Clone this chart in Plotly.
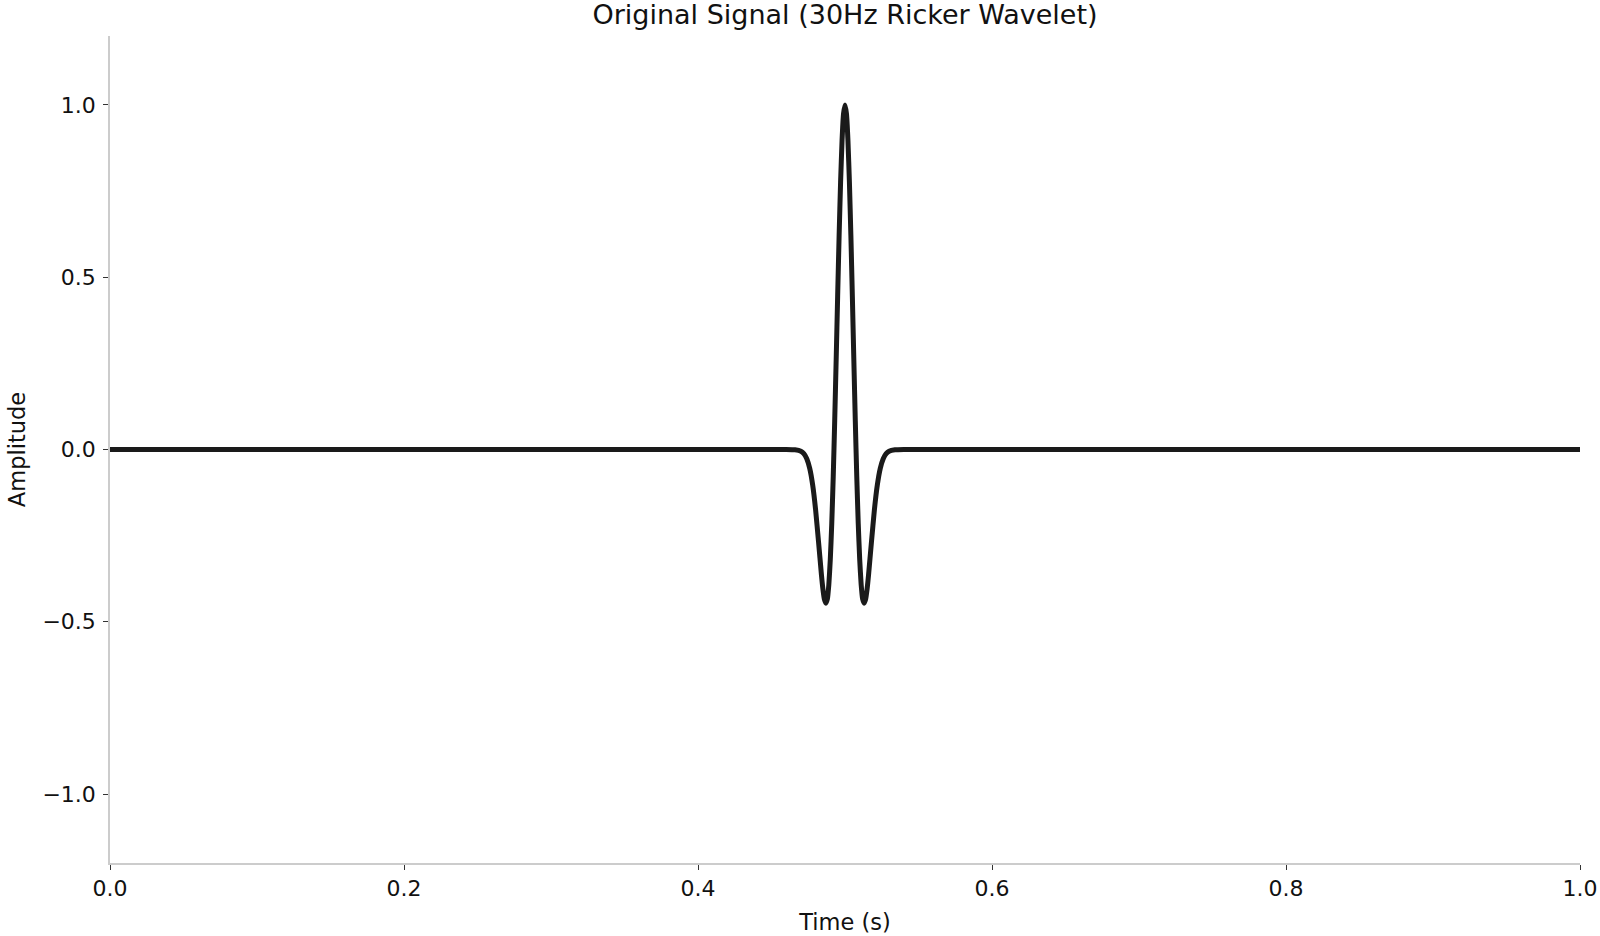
import plotly.graph_objects as go

INK, SPINE = "#1a1a1a", "#cccccc"
FONT = dict(family="DejaVu Sans, sans-serif", color="#111111")

# samples (time in s, amplitude)
TIME = [0.0, 0.46, 0.466, 0.470, 0.472, 0.474, 0.476, 0.478, 0.480, 0.482,
        0.484, 0.485, 0.486, 0.487, 0.488, 0.489, 0.490, 0.491, 0.492, 0.493,
        0.494, 0.495, 0.496, 0.497, 0.498, 0.499, 0.500, 0.501, 0.502, 0.503,
        0.504, 0.505, 0.506, 0.507, 0.508, 0.509, 0.510, 0.511, 0.512, 0.513,
        0.514, 0.515, 0.516, 0.518, 0.520, 0.522, 0.524, 0.526, 0.528, 0.530,
        0.534, 0.54, 1.0]
AMPLITUDE = [0.0, 0.0, -0.001, -0.005, -0.012, -0.027, -0.055, -0.103, -0.175, -0.268,
             -0.365, -0.406, -0.435, -0.446, -0.434, -0.392, -0.319, -0.214, -0.078, 0.084,
             0.262, 0.445, 0.621, 0.776, 0.897, 0.974, 1.0, 0.974, 0.897, 0.776,
             0.621, 0.445, 0.262, 0.084, -0.078, -0.214, -0.319, -0.392, -0.434, -0.446,
             -0.435, -0.406, -0.365, -0.268, -0.175, -0.103, -0.055, -0.027, -0.012, -0.005,
             -0.001, 0.0, 0.0]
X_TICKS = [0.0, 0.2, 0.4, 0.6, 0.8, 1.0]
Y_TICKS = [-1.0, -0.5, 0.0, 0.5, 1.0]

fig = go.Figure(go.Scatter(x=TIME, y=AMPLITUDE, mode="lines",
                           line=dict(color=INK, width=5, shape="spline", smoothing=0.5),
                           showlegend=False))

fig.update_layout(
    width=1600, height=936, font=dict(size=21, **FONT),
    paper_bgcolor="white", plot_bgcolor="white",
    margin=dict(l=110, r=20, t=36, b=73, autoexpand=False),
    title=dict(text="Original Signal (30Hz Ricker Wavelet)", x=0.5, xanchor="center",
               xref="paper", y=0.984, yanchor="middle", automargin=False,
               font=dict(size=27, **FONT)),
)
axis = dict(showgrid=False, zeroline=False, showline=True, linecolor=SPINE, linewidth=1.5,
            ticks="outside", ticklen=5, tickwidth=1.3, tickcolor="#333333",
            tickfont=dict(size=22, **FONT), mirror=False, automargin=False)
fig.update_xaxes(range=[0, 1], tickvals=X_TICKS, tickformat=".1f",
                 title=dict(text="Time (s)", standoff=14, font=dict(size=22.5, **FONT)), **axis)
fig.update_yaxes(range=[-1.2, 1.2], tickvals=Y_TICKS, tickformat=".1f", ticklabelstandoff=3,
                 title=dict(text="Amplitude", standoff=11, font=dict(size=22.5, **FONT)), **axis)

# page body has an 8px default margin; drop it so the figure sits at the window origin
fig.write_html("out.html", config=dict(displayModeBar=False),
               post_script="document.body.style.margin='0';document.body.style.overflow='hidden';")
